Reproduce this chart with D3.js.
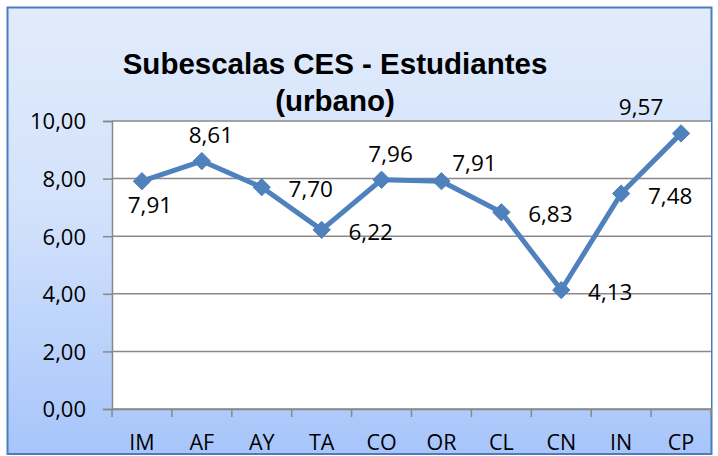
<!DOCTYPE html>
<html>
<head>
<meta charset="utf-8">
<script src="https://cdn.jsdelivr.net/npm/d3@7"></script>
<style>
  html, body { margin: 0; padding: 0; background: #fff; }
  svg { display: block; }
</style>
</head>
<body>
<div id="chart"></div>
<script>
// Chart data
const categories = ['IM', 'AF', 'AY', 'TA', 'CO', 'OR', 'CL', 'CN', 'IN', 'CP'];
const values = [7.91, 8.61, 7.70, 6.22, 7.96, 7.91, 6.83, 4.13, 7.48, 9.57];
const yTicks = [0, 2, 4, 6, 8, 10];
const titleLines = ['Subescalas CES - Estudiantes', '(urbano)'];
// where each data label sits relative to its point
const labelPlacement = ['below', 'above', 'right', 'right', 'above', 'aboveRight', 'right', 'right', 'right', 'aboveLeft'];

const width = 718, height = 456;
const plot = { left: 112, right: 711, top: 121, bottom: 409 };
const blue = '#4f81bd';
const gridColor = '#898989';

// Excel style number: 7,91
const fmt = v => d3.format('.2f')(v).replace('.', ',');

const svg = d3.select('#chart')
  .append('svg')
  .attr('width', width)
  .attr('height', height);

// Background gradient of the chart area
const defs = svg.append('defs');
const grad = defs.append('linearGradient')
  .attr('id', 'bg')
  .attr('x1', 0).attr('y1', 0)
  .attr('x2', 0).attr('y2', 1);
grad.append('stop').attr('offset', '0%').attr('stop-color', '#e1ebfb');
grad.append('stop').attr('offset', '45%').attr('stop-color', '#d3e2fb');
grad.append('stop').attr('offset', '100%').attr('stop-color', '#a7c5fb');

svg.append('rect')
  .attr('x', 7.5).attr('y', 7.5)
  .attr('width', 704).attr('height', 446.5)
  .attr('fill', 'url(#bg)')
  .attr('stroke', '#4a7ebb')
  .attr('stroke-width', 2);

// White plot area
svg.append('rect')
  .attr('x', plot.left).attr('y', plot.top)
  .attr('width', plot.right - plot.left)
  .attr('height', plot.bottom - plot.top)
  .attr('fill', '#fff');

// Scales
const x = d3.scaleBand()
  .domain(categories)
  .range([plot.left, plot.right]);
const y = d3.scaleLinear()
  .domain([0, 10])
  .range([plot.bottom, plot.top]);
const cx = d => x(d) + x.bandwidth() / 2;

// Horizontal gridlines
svg.append('g')
  .selectAll('line')
  .data(yTicks)
  .join('line')
  .attr('x1', plot.left).attr('x2', plot.right)
  .attr('y1', d => y(d)).attr('y2', d => y(d))
  .attr('stroke', gridColor)
  .attr('stroke-width', 1.5);

// Y axis
const yAxis = svg.append('g')
  .attr('transform', `translate(${plot.left},0)`)
  .call(d3.axisLeft(y).tickValues(yTicks).tickSize(9).tickPadding(17).tickFormat(fmt));
yAxis.select('.domain').attr('stroke', gridColor).attr('stroke-width', 1.5);
yAxis.selectAll('.tick line').attr('stroke', gridColor).attr('stroke-width', 1.5);
yAxis.selectAll('.tick text')
  .attr('font-family', 'Open Sans, sans-serif')
  .attr('font-size', 22)
  .attr('fill', '#000')
  .attr('dy', '0.36em');

// X axis: labels at category centres, ticks at boundaries
const xAxis = svg.append('g')
  .attr('transform', `translate(0,${plot.bottom})`)
  .call(d3.axisBottom(x).tickSize(0));
xAxis.select('.domain').attr('stroke', gridColor).attr('stroke-width', 1.5);
xAxis.selectAll('.tick text')
  .attr('font-family', 'Open Sans, sans-serif')
  .attr('font-size', 21.5)
  .attr('fill', '#000')
  .attr('y', 40.5)
  .attr('dy', null);

const bounds = categories.map(c => x(c)).concat([x.range()[1]]);
svg.append('g')
  .selectAll('line')
  .data(bounds)
  .join('line')
  .attr('x1', d => d).attr('x2', d => d)
  .attr('y1', plot.bottom).attr('y2', plot.bottom + 8)
  .attr('stroke', gridColor)
  .attr('stroke-width', 1.5);

// Line series
const series = categories.map((c, i) => ({ cat: c, value: values[i], pos: labelPlacement[i] }));

svg.append('path')
  .datum(series)
  .attr('fill', 'none')
  .attr('stroke', blue)
  .attr('stroke-width', 5)
  .attr('stroke-linejoin', 'round')
  .attr('d', d3.line().x(d => cx(d.cat)).y(d => y(d.value)));

// Diamond markers
svg.append('g')
  .selectAll('path')
  .data(series)
  .join('path')
  .attr('transform', d => `translate(${cx(d.cat)},${y(d.value)})`)
  .attr('d', d3.symbol().type(d3.symbolDiamond2).size(190))
  .attr('fill', blue)
  .attr('stroke', blue)
  .attr('stroke-width', 1);

// Data labels
const offsets = {
  below: [8, 32],
  above: [9, -18],
  right: [49, 10],
  aboveRight: [33, -10],
  aboveLeft: [-40, -18]
};
svg.append('g')
  .selectAll('text')
  .data(series)
  .join('text')
  .attr('x', d => cx(d.cat) + offsets[d.pos][0])
  .attr('y', d => y(d.value) + offsets[d.pos][1])
  .attr('text-anchor', 'middle')
  .attr('font-family', 'Open Sans, sans-serif')
  .attr('font-size', 22.5)
  .attr('fill', '#000')
  .text(d => fmt(d.value));

// Title
svg.append('text')
  .attr('x', 335)
  .attr('y', 74)
  .attr('text-anchor', 'middle')
  .attr('font-family', 'Liberation Sans, Arial, sans-serif')
  .attr('font-weight', 'bold')
  .attr('font-size', 29.5)
  .selectAll('tspan')
  .data(titleLines)
  .join('tspan')
  .attr('x', 335)
  .attr('dy', (d, i) => i === 0 ? 0 : 37)
  .text(d => d);
</script>
</body>
</html>
